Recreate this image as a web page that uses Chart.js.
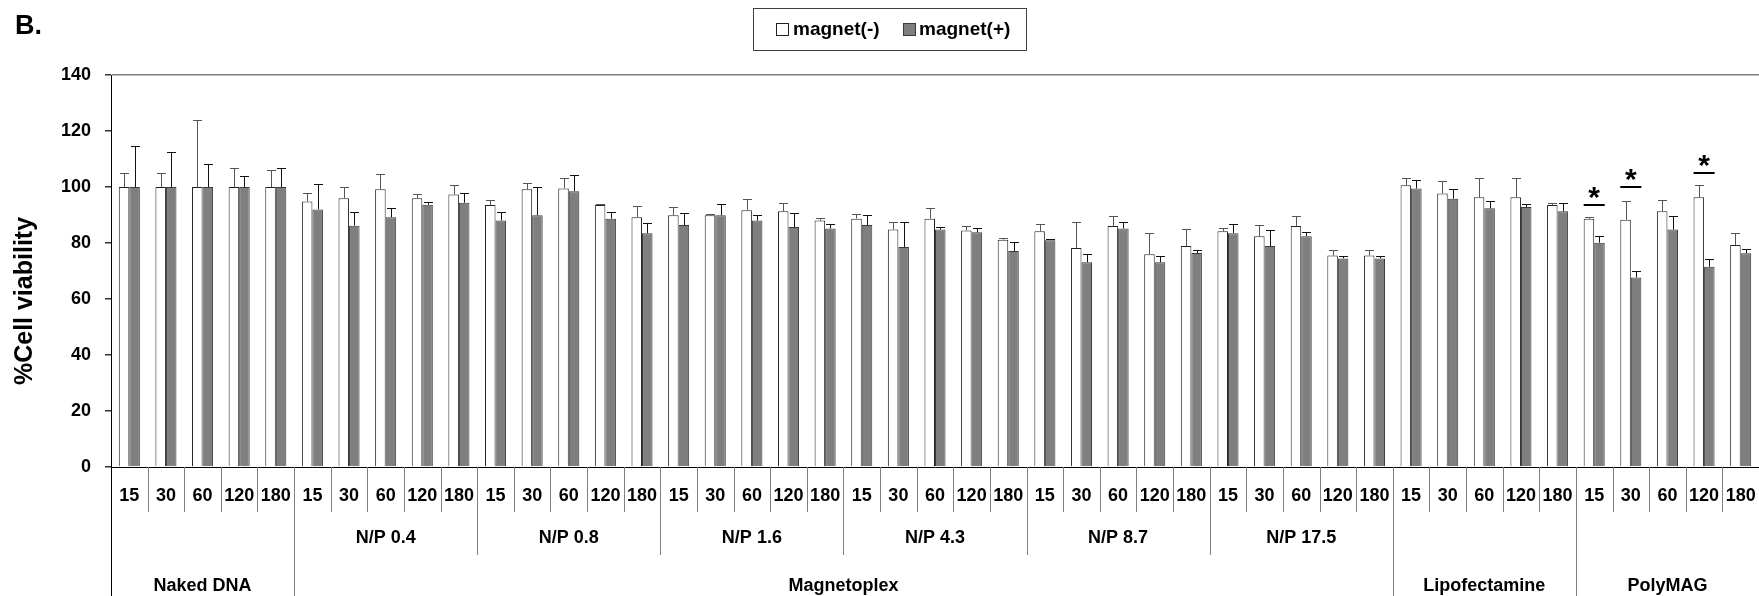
<!DOCTYPE html>
<html>
<head>
<meta charset="utf-8">
<script src="https://cdn.jsdelivr.net/npm/chart.js@4/dist/chart.umd.min.js"></script>
<style>
  html, body { margin: 0; padding: 0; background: #fff; overflow: hidden; }
  #wrap { width: 1759px; height: 596px; position: relative; }
</style>
</head>
<body>
<div id="wrap"><canvas id="viabilityChart"></canvas></div>
<script>
// Chart data
const times = ["15", "30", "60", "120", "180"];
const subGroups = ["", "N/P 0.4", "N/P 0.8", "N/P 1.6", "N/P 4.3", "N/P 8.7", "N/P 17.5", "", ""];
const groups = ["Naked DNA", "Magnetoplex", "Lipofectamine", "PolyMAG"];
const groupSizes = [5, 30, 5, 5];

const magnetMinus = [100, 100, 100, 100, 100,
  94.8, 96.0, 99.2, 96.0, 97.3,
  93.6, 99.2, 99.5, 93.6, 89.2,
  89.9, 89.9, 91.7, 91.3, 88.0,
  88.7, 84.8, 88.7, 84.5, 81.2,
  84.2, 78.2, 86.1, 76.0, 78.9,
  84.2, 82.4, 86.1, 75.5, 75.5,
  100.6, 97.7, 96.3, 96.3, 93.6,
  88.7, 88.3, 91.3, 96.3, 79.3];
const magnetMinusErr = [5.1, 5.1, 23.8, 6.9, 5.9,
  2.9, 4.0, 5.6, 1.6, 3.3,
  1.9, 2.2, 3.8, 0.3, 4.0,
  3.0, 0.6, 4.1, 3.0, 1.0,
  1.8, 2.8, 3.8, 1.7, 0.7,
  2.7, 9.3, 3.4, 7.5, 6.1,
  1.2, 4.1, 3.4, 2.0, 2.0,
  2.5, 4.6, 6.8, 7.0, 0.7,
  0.7, 6.8, 4.2, 4.3, 4.2];
const magnetPlus = [100, 100, 100, 100, 100,
  92.0, 86.2, 89.2, 93.7, 94.4,
  88.0, 89.9, 98.5, 88.7, 83.5,
  86.4, 89.9, 88.0, 85.7, 85.2,
  86.4, 78.6, 84.8, 83.8, 77.1,
  81.0, 73.1, 85.2, 73.1, 76.4,
  83.5, 78.9, 82.4, 74.5, 74.5,
  99.5, 95.8, 92.4, 92.9, 91.3,
  80.1, 67.7, 84.8, 71.5, 76.3];
const magnetPlusErr = [14.5, 12.6, 8.1, 4.0, 6.7,
  9.1, 4.8, 3.4, 0.9, 3.6,
  3.0, 10.1, 5.9, 2.5, 3.6,
  4.4, 4.0, 2.1, 5.1, 1.7,
  3.7, 9.0, 0.9, 1.6, 3.4,
  0.4, 2.9, 2.4, 2.4, 1.1,
  3.4, 5.9, 1.4, 0.7, 0.7,
  3.1, 3.4, 2.7, 1.0, 3.1,
  2.3, 2.3, 4.7, 2.7, 1.6];

// significance marks (category index, height of the bar line)
const sigIndex = [40, 41, 43];
const sigLevel = [93.5, 100, 105];

const yTicks = [0, 20, 40, 60, 80, 100, 120, 140];

const labels = [];
subGroups.forEach(() => times.forEach(t => labels.push(t)));

const FONT = '"Liberation Sans", Arial, sans-serif';
Chart.defaults.font.family = FONT;
Chart.defaults.color = "#000";

// error bars on top of each bar
const errorBars = {
  id: "errorBars",
  afterDatasetsDraw(chart) {
    const ctx = chart.ctx;
    const y = chart.scales.y;
    ctx.save();
    chart.data.datasets.forEach((ds, i) => {
      const meta = chart.getDatasetMeta(i);
      ctx.strokeStyle = ds.errorColor;
      ctx.lineWidth = 1;
      meta.data.forEach((bar, j) => {
        const x = Math.round(bar.x) + 0.5;
        const top = Math.round(y.getPixelForValue(ds.data[j] + ds.errors[j])) + 0.5;
        const half = 4.5;
        ctx.beginPath();
        ctx.moveTo(x, bar.y);
        ctx.lineTo(x, top);
        ctx.moveTo(x - half, top);
        ctx.lineTo(x + half, top);
        ctx.stroke();
      });
    });

    // significance lines and stars
    const m0 = chart.getDatasetMeta(0), m1 = chart.getDatasetMeta(1);
    ctx.strokeStyle = "#000";
    ctx.fillStyle = "#000";
    ctx.lineWidth = 2;
    ctx.font = "bold 30px " + FONT;
    ctx.textAlign = "center";
    ctx.textBaseline = "alphabetic";
    const star = ctx.measureText("*");
    sigIndex.forEach((idx, k) => {
      const a = m0.data[idx], b = m1.data[idx];
      const left = a.x - a.width / 2, right = b.x + b.width / 2;
      const ly = Math.round(y.getPixelForValue(sigLevel[k]));
      ctx.beginPath();
      ctx.moveTo(left, ly);
      ctx.lineTo(right, ly);
      ctx.stroke();
      ctx.fillText("*", (left + right) / 2, ly - 6 - star.actualBoundingBoxDescent);
    });
    ctx.restore();
  }
};

// multi-level category rows, legend box, axis title and panel letter
const decorations = {
  id: "decorations",
  afterDraw(chart) {
    const ctx = chart.ctx;
    const x = chart.scales.x;
    const axisY = x.top;
    const n = labels.length;
    const bound = i => i === 0 ? x.left : (i === n ? x.right : (x.getPixelForValue(i - 1) + x.getPixelForValue(i)) / 2);

    const groupEdges = [];
    let acc = 0;
    groupSizes.forEach(s => { acc += s; groupEdges.push(acc); });

    ctx.save();
    ctx.lineWidth = 1;
    ctx.strokeStyle = "#808080";
    for (let i = 1; i < n; i++) {
      let bottom = axisY + 45;
      if (i % 5 === 0) bottom = axisY + 88;
      if (groupEdges.includes(i)) bottom = chart.height;
      const bx = Math.round(bound(i)) + 0.5;
      ctx.beginPath();
      ctx.moveTo(bx, axisY);
      ctx.lineTo(bx, bottom);
      ctx.stroke();
    }
    ctx.strokeStyle = "#000";
    ctx.beginPath();
    ctx.moveTo(Math.round(x.left) + 0.5, axisY);
    ctx.lineTo(Math.round(x.left) + 0.5, chart.height);
    ctx.stroke();

    ctx.fillStyle = "#000";
    ctx.font = "bold 18px " + FONT;
    ctx.textAlign = "center";
    ctx.textBaseline = "middle";
    subGroups.forEach((name, g) => {
      if (!name) return;
      ctx.fillText(name, (bound(g * 5) + bound(g * 5 + 5)) / 2, axisY + 71);
    });
    let start = 0;
    groups.forEach((name, g) => {
      const end = start + groupSizes[g];
      ctx.fillText(name, (bound(start) + bound(end)) / 2, axisY + 119);
      start = end;
    });

    // y axis title
    ctx.save();
    ctx.translate(25, 301);
    ctx.rotate(-Math.PI / 2);
    ctx.font = "bold 25px " + FONT;
    ctx.fillText("%Cell viability", 0, 0);
    ctx.restore();

    // legend
    ctx.strokeStyle = "#404040";
    ctx.strokeRect(753.5, 8.5, 273, 42);
    ctx.font = "bold 19px " + FONT;
    ctx.textAlign = "left";
    const items = [[776, 793], [903, 919]];
    chart.data.datasets.forEach((ds, i) => {
      ctx.fillStyle = ds.backgroundColor;
      ctx.fillRect(items[i][0], 23, 12, 12);
      ctx.strokeStyle = ds.borderColor;
      ctx.strokeRect(items[i][0] + 0.5, 23.5, 12, 12);
      ctx.fillStyle = "#000";
      ctx.fillText(ds.label, items[i][1], 30);
    });

    ctx.font = "bold 27px " + FONT;
    ctx.fillText("B.", 15, 27);
    ctx.restore();
  }
};

new Chart(document.getElementById("viabilityChart"), {
  type: "bar",
  data: {
    labels: labels,
    datasets: [
      {
        label: "magnet(-)",
        data: magnetMinus,
        errors: magnetMinusErr,
        errorColor: "#555",
        backgroundColor: "#ffffff",
        borderColor: "#222",
        borderWidth: 1,
        categoryPercentage: 0.575,
        barPercentage: 1,
      },
      {
        label: "magnet(+)",
        data: magnetPlus,
        errors: magnetPlusErr,
        errorColor: "#111",
        backgroundColor: "#7f7f7f",
        borderColor: "#3a3a3a",
        borderWidth: 1,
        categoryPercentage: 0.575,
        barPercentage: 1,
      },
    ],
  },
  options: {
    responsive: true,
    maintainAspectRatio: false,
    animation: false,
    layout: { padding: { top: 75, right: 0, bottom: 0, left: 0 } },
    plugins: {
      legend: { display: false },
      tooltip: { enabled: false },
    },
    scales: {
      x: {
        offset: true,
        grid: { display: false },
        border: { display: true, color: "#000", width: 1 },
        ticks: {
          autoSkip: false,
          maxRotation: 0,
          padding: 10,
          font: { size: 18, weight: "bold" },
          color: "#000",
        },
        afterFit: (scale) => {
          scale.height = 129;
          scale.paddingLeft = 0;
          scale.paddingRight = 0;
        },
      },
      y: {
        min: 0,
        max: 140,
        afterBuildTicks: (scale) => { scale.ticks = yTicks.map(v => ({ value: v })); },
        grid: {
          color: (c) => (c.tick && c.tick.value === 140 ? "#808080" : "rgba(0,0,0,0)"),
          lineWidth: 1.5,
          tickColor: "#333",
          tickLength: 6,
        },
        border: { display: true, color: "#000", width: 1 },
        ticks: {
          padding: 14,
          font: { size: 18, weight: "bold" },
          color: "#000",
        },
        afterFit: (scale) => { scale.width = 111; },
      },
    },
  },
  plugins: [errorBars, decorations],
});
</script>
</body>
</html>
